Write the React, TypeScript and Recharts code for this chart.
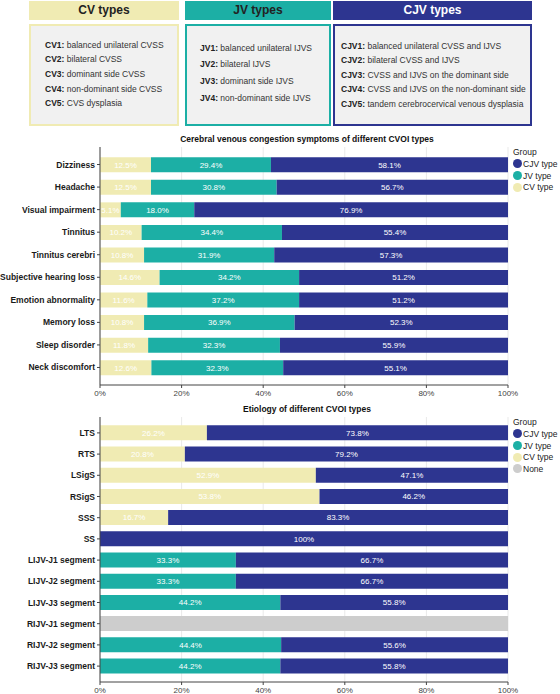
import React from 'react';
import { BarChart, Bar, XAxis, YAxis, CartesianGrid, LabelList } from 'recharts';

const FONT = '"Liberation Sans", Arial, Helvetica, sans-serif';

const CJV_COLOR = '#2d3590';
const JV_COLOR = '#1cafa5';
const CV_COLOR = '#f0ebb3';
const NONE_COLOR = '#cdcdcd';

// type definitions shown in the header boxes
const cvTypes = [
  ['CV1', 'balanced unilateral CVSS'],
  ['CV2', 'bilateral CVSS'],
  ['CV3', 'dominant side CVSS'],
  ['CV4', 'non-dominant side CVSS'],
  ['CV5', 'CVS dysplasia'],
];
const jvTypes = [
  ['JV1', 'balanced unilateral IJVS'],
  ['JV2', 'bilateral IJVS'],
  ['JV3', 'dominant side IJVS'],
  ['JV4', 'non-dominant side IJVS'],
];
const cjvTypes = [
  ['CJV1', 'balanced unilateral CVSS and IJVS'],
  ['CJV2', 'bilateral CVSS and IJVS'],
  ['CJV3', 'CVSS and IJVS on the dominant side'],
  ['CJV4', 'CVSS and IJVS on the non-dominant side'],
  ['CJV5', 'tandem cerebrocervical venous dysplasia'],
];

// chart 1: symptoms
const symptomNames = [
  'Dizziness',
  'Headache',
  'Visual impairment',
  'Tinnitus',
  'Tinnitus cerebri',
  'Subjective hearing loss',
  'Emotion abnormality',
  'Memory loss',
  'Sleep disorder',
  'Neck discomfort',
];
const symptomCV = [12.5, 12.5, 5.1, 10.2, 10.8, 14.6, 11.6, 10.8, 11.8, 12.6];
const symptomJV = [29.4, 30.8, 18.0, 34.4, 31.9, 34.2, 37.2, 36.9, 32.3, 32.3];
const symptomCJV = [58.1, 56.7, 76.9, 55.4, 57.3, 51.2, 51.2, 52.3, 55.9, 55.1];

// chart 2: etiology
const etiologyNames = [
  'LTS',
  'RTS',
  'LSigS',
  'RSigS',
  'SSS',
  'SS',
  'LIJV-J1 segment',
  'LIJV-J2 segment',
  'LIJV-J3 segment',
  'RIJV-J1 segment',
  'RIJV-J2 segment',
  'RIJV-J3 segment',
];
const etiologyCV = [26.2, 20.8, 52.9, 53.8, 16.7, 0, 0, 0, 0, 0, 0, 0];
const etiologyJV = [0, 0, 0, 0, 0, 0, 33.3, 33.3, 44.2, 0, 44.4, 44.2];
const etiologyCJV = [73.8, 79.2, 47.1, 46.2, 83.3, 100, 66.7, 66.7, 55.8, 0, 55.6, 55.8];
const etiologyNone = [0, 0, 0, 0, 0, 0, 0, 0, 0, 100, 0, 0];

const xTicks = [0, 20, 40, 60, 80, 100];

const symptomData = symptomNames.map((name, i) => ({
  name,
  cv: symptomCV[i],
  jv: symptomJV[i],
  cjv: symptomCJV[i],
}));

const etiologyData = etiologyNames.map((name, i) => ({
  name,
  cv: etiologyCV[i],
  jv: etiologyJV[i],
  cjv: etiologyCJV[i],
  none: etiologyNone[i],
}));

const pct = (v: any) => {
  if (v == null || v === 0) return '';
  if (v === 100) return '100%';
  return `${Number(v).toFixed(1)}%`;
};

// single-line category label (recharts would wrap long names otherwise)
const CategoryTick = ({ x, y, payload }: any) => (
  <text x={x} y={y} dy="0.355em" textAnchor="end" fontSize={8.5} fontWeight={700} fill="#1a1a1a">
    {payload.value}
  </text>
);

function TypeBox({ left, width, title, color, titleColor, rows, lineH, firstTop, textLeft }: any) {
  return (
    <>
      <div
        style={{
          position: 'absolute', left, top: 1, width, height: 19, background: color,
          color: titleColor, fontWeight: 700, fontSize: 12, lineHeight: '19px', textAlign: 'center',
        }}
      >
        {title}
      </div>
      <div
        style={{
          position: 'absolute', left, top: 24, width: width - 4, height: 98, background: '#f1f1f1',
          border: `2px solid ${color}`,
        }}
      />
      {rows.map(([k, txt]: string[], i: number) => (
        <div
          key={k}
          style={{
            position: 'absolute', left: textLeft, top: firstTop + i * lineH, height: lineH,
            lineHeight: `${lineH}px`, fontSize: 8.5, color: '#333', whiteSpace: 'nowrap',
          }}
        >
          <b style={{ color: '#222' }}>{k}:</b> {txt}
        </div>
      ))}
    </>
  );
}

function GroupLegend({ top, items }: any) {
  return (
    <div style={{ position: 'absolute', left: 513, top, fontSize: 8.5, color: '#222' }}>
      <div style={{ height: 12, lineHeight: '12px' }}>Group</div>
      {items.map(([label, color]: string[]) => (
        <div key={label} style={{ height: 11.7, display: 'flex', alignItems: 'center' }}>
          <span
            style={{ width: 9, height: 9, borderRadius: '50%', background: color, display: 'inline-block', marginRight: 1 }}
          />
          <span>{label}</span>
        </div>
      ))}
    </div>
  );
}

function StackChart({ data, top, height, xAxisHeight, padY, withNone }: any) {
  return (
    <div style={{ position: 'absolute', left: 0, top }}>
      <BarChart
        width={560}
        height={height}
        data={data}
        layout="vertical"
        margin={{ top: 17, right: 52, left: 0, bottom: 0 }}
        style={{ fontFamily: FONT }}
      >
        <CartesianGrid horizontal={false} stroke="#e9e9e9" />
        <XAxis
          type="number"
          domain={[0, 100]}
          ticks={xTicks}
          tickFormatter={(v) => `${v}%`}
          height={xAxisHeight}
          tickSize={3}
          tick={{ fontSize: 8, fill: '#444' }}
          axisLine={{ stroke: '#444' }}
          tickLine={{ stroke: '#444' }}
        />
        <XAxis
          xAxisId="top"
          orientation="top"
          type="number"
          domain={[0, 100]}
          height={0}
          tick={false}
          tickLine={false}
          axisLine={{ stroke: '#666' }}
        />
        <YAxis
          type="category"
          dataKey="name"
          width={100}
          tickSize={3}
          padding={{ top: padY, bottom: padY }}
          tick={<CategoryTick />}
          axisLine={{ stroke: '#444' }}
          tickLine={{ stroke: '#444' }}
          interval={0}
        />
        <YAxis
          yAxisId="right"
          orientation="right"
          type="category"
          dataKey="name"
          width={0}
          tick={false}
          tickLine={false}
          axisLine={{ stroke: '#666' }}
        />
        <Bar dataKey="cv" stackId="s" fill={CV_COLOR} barSize={15} isAnimationActive={false}>
          <LabelList dataKey="cv" position="center" formatter={pct} fill="#fff" fontSize={8} />
        </Bar>
        <Bar dataKey="jv" stackId="s" fill={JV_COLOR} barSize={15} isAnimationActive={false}>
          <LabelList dataKey="jv" position="center" formatter={pct} fill="#fff" fontSize={8} />
        </Bar>
        <Bar dataKey="cjv" stackId="s" fill={CJV_COLOR} barSize={15} isAnimationActive={false}>
          <LabelList dataKey="cjv" position="center" formatter={pct} fill="#fff" fontSize={8} />
        </Bar>
        {withNone && (
          <Bar dataKey="none" stackId="s" fill={NONE_COLOR} barSize={15} isAnimationActive={false} />
        )}
      </BarChart>
    </div>
  );
}

export default function App() {
  const baseItems = [
    ['CJV type', CJV_COLOR],
    ['JV type', JV_COLOR],
    ['CV type', CV_COLOR],
  ];
  return (
    <div
      style={{
        position: 'absolute', left: 0, top: 0, width: 560, height: 694, overflow: 'hidden',
        background: '#fff', fontFamily: FONT,
      }}
    >
      <TypeBox left={29} width={150} title="CV types" color={CV_COLOR} titleColor="#222"
        rows={cvTypes} lineH={14.7} firstTop={37.5} textLeft={45} />
      <TypeBox left={185} width={146} title="JV types" color={JV_COLOR} titleColor="#222"
        rows={jvTypes} lineH={16.7} firstTop={39.6} textLeft={200} />
      <TypeBox left={333} width={199} title="CJV types" color={CJV_COLOR} titleColor="#fff"
        rows={cjvTypes} lineH={14.5} firstTop={38.5} textLeft={341} />

      <div style={{ position: 'absolute', left: 107, top: 134, width: 400, textAlign: 'center',
        fontSize: 8.5, fontWeight: 700, lineHeight: '10px', color: '#111' }}>
        Cerebral venous congestion symptoms of different CVOI types
      </div>
      <StackChart data={symptomData} top={130} height={275} xAxisHeight={20} padY={6.25} withNone={false} />
      <GroupLegend top={146} items={baseItems} />

      <div style={{ position: 'absolute', left: 107, top: 404, width: 400, textAlign: 'center',
        fontSize: 8.5, fontWeight: 700, lineHeight: '10px', color: '#111' }}>
        Etiology of different CVOI types
      </div>
      <StackChart data={etiologyData} top={400} height={294} xAxisHeight={12} padY={5.3} withNone />
      <GroupLegend top={416} items={[...baseItems, ['None', NONE_COLOR]]} />
    </div>
  );
}
